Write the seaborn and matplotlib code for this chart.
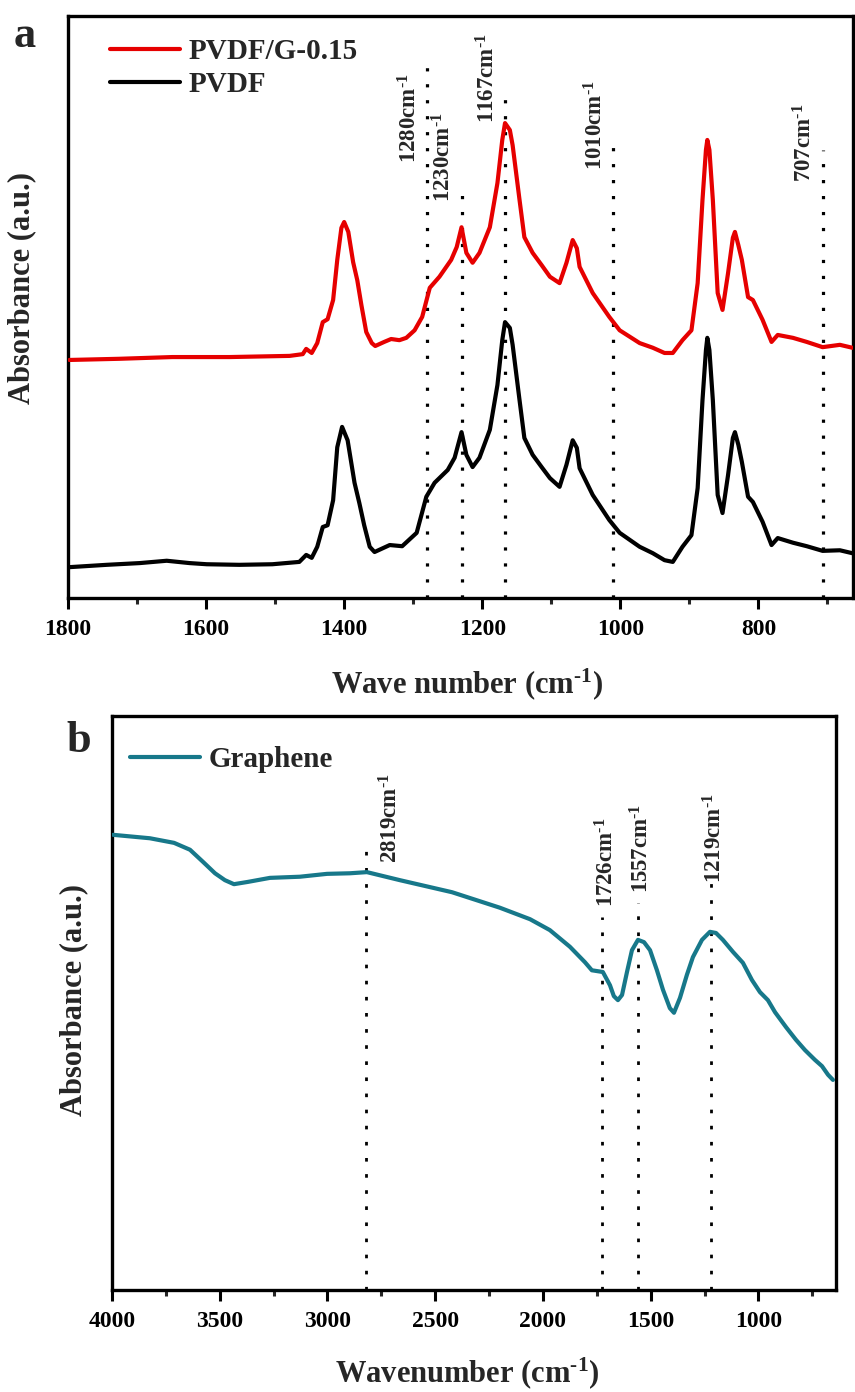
import numpy as np
import pandas as pd
import matplotlib
matplotlib.use("Agg")
import matplotlib.pyplot as plt
import matplotlib.transforms as mtrans
from matplotlib.ticker import MultipleLocator
import seaborn as sns

# ---------------- data ----------------
pvdfg_wn = [1798, 1726, 1649, 1566, 1479, 1460, 1455, 1447, 1439, 1431, 1424, 1416, 1410, 1404, 1400,
            1394, 1387, 1381, 1375, 1368, 1360, 1355, 1342, 1332, 1320, 1310, 1298, 1287, 1276, 1262,
            1245, 1237, 1230, 1223, 1214, 1204, 1189, 1178, 1171, 1167, 1160, 1156, 1146, 1139, 1127,
            1114, 1102, 1088, 1078, 1069, 1063, 1059, 1040, 1016, 1001, 972, 953, 936, 924, 910,
            897, 888, 881, 876, 874, 871, 866, 859, 852, 844, 837, 834, 829, 824, 815,
            808, 794, 781, 772, 750, 730, 707, 682, 664]
pvdfg_abs = [0.409, 0.411, 0.414, 0.414, 0.416, 0.419, 0.428, 0.421, 0.438, 0.474, 0.479, 0.512, 0.581, 0.636, 0.646,
             0.629, 0.577, 0.546, 0.503, 0.457, 0.438, 0.433, 0.440, 0.445, 0.443, 0.447, 0.460, 0.483, 0.533, 0.552,
             0.581, 0.603, 0.637, 0.593, 0.576, 0.593, 0.637, 0.713, 0.787, 0.816, 0.804, 0.778, 0.684, 0.620, 0.593,
             0.572, 0.552, 0.541, 0.576, 0.615, 0.601, 0.569, 0.524, 0.483, 0.460, 0.438, 0.430, 0.421, 0.421, 0.443,
             0.460, 0.541, 0.684, 0.770, 0.787, 0.770, 0.684, 0.524, 0.495, 0.558, 0.619, 0.629, 0.606, 0.581, 0.517,
             0.512, 0.478, 0.440, 0.452, 0.447, 0.440, 0.431, 0.435, 0.430]

pvdf_wn = [1798, 1744, 1696, 1657, 1624, 1599, 1552, 1504, 1465, 1455, 1447, 1439, 1431, 1424, 1416,
           1410, 1403, 1395, 1385, 1378, 1371, 1363, 1356, 1334, 1316, 1295, 1281, 1269, 1250, 1240,
           1230, 1223, 1214, 1204, 1189, 1178, 1171, 1167, 1160, 1156, 1146, 1139, 1127, 1114, 1102,
           1088, 1078, 1069, 1063, 1059, 1040, 1016, 1001, 972, 953, 936, 924, 910, 897, 888,
           881, 876, 874, 871, 866, 859, 852, 844, 837, 834, 829, 824, 815, 808, 794,
           781, 772, 750, 730, 707, 682, 664]
pvdf_abs = [0.053, 0.057, 0.060, 0.064, 0.060, 0.058, 0.057, 0.058, 0.062, 0.074, 0.069, 0.088, 0.122, 0.125, 0.168,
            0.259, 0.294, 0.271, 0.198, 0.163, 0.125, 0.088, 0.079, 0.091, 0.089, 0.112, 0.174, 0.198, 0.220, 0.241,
            0.285, 0.246, 0.225, 0.241, 0.289, 0.366, 0.443, 0.474, 0.464, 0.435, 0.340, 0.275, 0.246, 0.225, 0.206,
            0.191, 0.229, 0.271, 0.258, 0.223, 0.177, 0.134, 0.112, 0.088, 0.077, 0.065, 0.062, 0.088, 0.108, 0.189,
            0.340, 0.426, 0.447, 0.426, 0.340, 0.177, 0.146, 0.211, 0.275, 0.285, 0.263, 0.234, 0.174, 0.165, 0.131,
            0.091, 0.103, 0.095, 0.089, 0.081, 0.082, 0.077]

graphene_wn = [3995, 3824, 3712, 3638, 3578, 3522, 3476, 3434, 3369, 3267, 3128, 3002, 2896, 2817, 2664,
               2422, 2200, 2060, 1968, 1875, 1805, 1773, 1722, 1689, 1671, 1652, 1633, 1610, 1587, 1559,
               1531, 1503, 1471, 1443, 1411, 1392, 1364, 1332, 1304, 1262, 1225, 1197, 1165, 1118, 1072,
               1030, 993, 956, 923, 872, 826, 784, 738, 705, 677, 654]
graphene_abs = [0.793, 0.787, 0.779, 0.767, 0.746, 0.726, 0.714, 0.707, 0.711, 0.718, 0.720, 0.725, 0.726, 0.728, 0.714,
                0.693, 0.666, 0.646, 0.627, 0.598, 0.571, 0.557, 0.554, 0.531, 0.512, 0.505, 0.514, 0.554, 0.592, 0.610,
                0.606, 0.592, 0.557, 0.523, 0.491, 0.483, 0.509, 0.549, 0.580, 0.610, 0.624, 0.622, 0.610, 0.589, 0.570,
                0.540, 0.519, 0.505, 0.484, 0.458, 0.436, 0.418, 0.401, 0.390, 0.375, 0.366]

peaks_a = [1280, 1230, 1167, 1010, 707]
peaks_a_top = [0.912, 0.706, 0.876, 0.775, 0.770]
peaks_a_text_y = [0.747, 0.680, 0.816, 0.735, 0.715]

peaks_b = [2819, 1726, 1557, 1219]
peaks_b_top = [0.780, 0.650, 0.674, 0.714]
peaks_b_text_y = [0.744, 0.667, 0.692, 0.709]

xticks_a = [1800, 1600, 1400, 1200, 1000, 800]
xticks_b = [4000, 3500, 3000, 2500, 2000, 1500, 1000]

# ---------------- style ----------------
sns.set_style("white")
plt.rcParams['font.family'] = ['Liberation Serif', 'DejaVu Serif']
plt.rcParams['font.weight'] = 'bold'
plt.rcParams['mathtext.fontset'] = 'custom'
plt.rcParams['mathtext.rm'] = 'Liberation Serif:bold'
plt.rcParams['mathtext.bf'] = 'Liberation Serif:bold'
plt.rcParams['mathtext.it'] = 'Liberation Serif:bold'
plt.rcParams['mathtext.default'] = 'bf'

RED = '#e60000'
BLACK = '#000000'
TEAL = '#17788a'
SUP = r"cm$^{\text{-}1}$"

fig = plt.figure(figsize=(8.55, 13.92), dpi=100)
axa = fig.add_axes([68 / 855, 1 - 598 / 1392, (853 - 68) / 855, (598 - 16) / 1392])
axb = fig.add_axes([112 / 855, 1 - 1290 / 1392, (836 - 112) / 855, (1290 - 716) / 1392])

df_g = pd.DataFrame({'wn': pvdfg_wn, 'abs': pvdfg_abs})
df_p = pd.DataFrame({'wn': pvdf_wn, 'abs': pvdf_abs})
df_gr = pd.DataFrame({'wn': graphene_wn, 'abs': graphene_abs})

# ---------------- panel a ----------------
for wn, top in zip(peaks_a, peaks_a_top):
    axa.plot([wn, wn], [0, top], color='black', lw=2.3, linestyle=(0, (1, 4.0)), zorder=1)

sns.lineplot(data=df_g, x='wn', y='abs', ax=axa, color=RED, lw=3, sort=False,
             estimator=None, label='PVDF/G-0.15', zorder=3)
sns.lineplot(data=df_p, x='wn', y='abs', ax=axa, color=BLACK, lw=3, sort=False,
             estimator=None, label='PVDF', zorder=3)

for wn, ty in zip(peaks_a, peaks_a_text_y):
    tr = mtrans.offset_copy(axa.transData, fig=fig, x=-6, y=0, units='dots')
    axa.text(wn, ty, f"{wn}" + SUP, rotation=90, ha='right', va='bottom',
             transform=tr, fontsize=16.5, fontweight='bold')

axa.set_xlim(1800, 663)
axa.set_ylim(0, 1)
axa.set_yticks([])
axa.set_xticks(xticks_a)
axa.xaxis.set_minor_locator(MultipleLocator(100))
axa.tick_params(axis='x', which='major', bottom=True, direction='out', length=8, width=2.2,
                labelsize=17, pad=7, colors='black')
axa.tick_params(axis='x', which='minor', bottom=True, direction='out', length=4.5, width=2.2)
axa.set_xlabel("Wave number (" + SUP + ")", fontsize=22, fontweight='bold')
axa.set_ylabel("Absorbance (a.u.)", fontsize=22, fontweight='bold')
axa.xaxis.set_label_coords(0.508, -0.118)
axa.yaxis.set_label_coords(-0.04, 0.533)
axa.legend(loc='upper left', bbox_to_anchor=(0.0535, 0.962), frameon=False,
           prop={'weight': 'bold', 'size': 21}, handlelength=2.4, handletextpad=0.3,
           borderpad=0, borderaxespad=0, labelspacing=0.2)

# ---------------- panel b ----------------
for wn, top in zip(peaks_b, peaks_b_top):
    axb.plot([wn, wn], [0, top], color='black', lw=2.0, linestyle=(0, (1.3, 4.5)), zorder=1)

sns.lineplot(data=df_gr, x='wn', y='abs', ax=axb, color=TEAL, lw=3, sort=False,
             estimator=None, label='Graphene', zorder=3)

b_dx = [13, -7, -8, -8]
for wn, ty, dx in zip(peaks_b, peaks_b_text_y, b_dx):
    tr = mtrans.offset_copy(axb.transData, fig=fig, x=dx, y=0, units='dots')
    axb.text(wn, ty, f"{wn}" + SUP, rotation=90, ha='left', va='bottom',
             transform=tr, fontsize=16.5, fontweight='bold')

axb.set_xlim(4000, 640)
axb.set_ylim(0, 1)
axb.set_yticks([])
axb.set_xticks(xticks_b)
axb.xaxis.set_minor_locator(MultipleLocator(250))
axb.tick_params(axis='x', which='major', bottom=True, direction='out', length=8, width=2.2,
                labelsize=17, pad=7, colors='black')
axb.tick_params(axis='x', which='minor', bottom=True, direction='out', length=4.5, width=2.2)
axb.set_xlabel("Wavenumber (" + SUP + ")", fontsize=22, fontweight='bold')
axb.set_ylabel("Absorbance (a.u.)", fontsize=22, fontweight='bold')
axb.xaxis.set_label_coords(0.49, -0.113)
axb.yaxis.set_label_coords(-0.033, 0.505)
axb.legend(loc='upper left', bbox_to_anchor=(0.025, 0.948), frameon=False,
           prop={'weight': 'bold', 'size': 21}, handlelength=2.4, handletextpad=0.3,
           borderpad=0, borderaxespad=0)

for ax in (axa, axb):
    for s in ax.spines.values():
        s.set_linewidth(2.4)
        s.set_color('black')
        s.set_visible(True)

fig.text(25 / 855, 1 - 36 / 1392, 'a', fontsize=32, fontweight='bold', ha='center', va='center')
fig.text(79 / 855, 1 - 741 / 1392, 'b', fontsize=32, fontweight='bold', ha='center', va='center')

fig.savefig('out.png', dpi=100)
